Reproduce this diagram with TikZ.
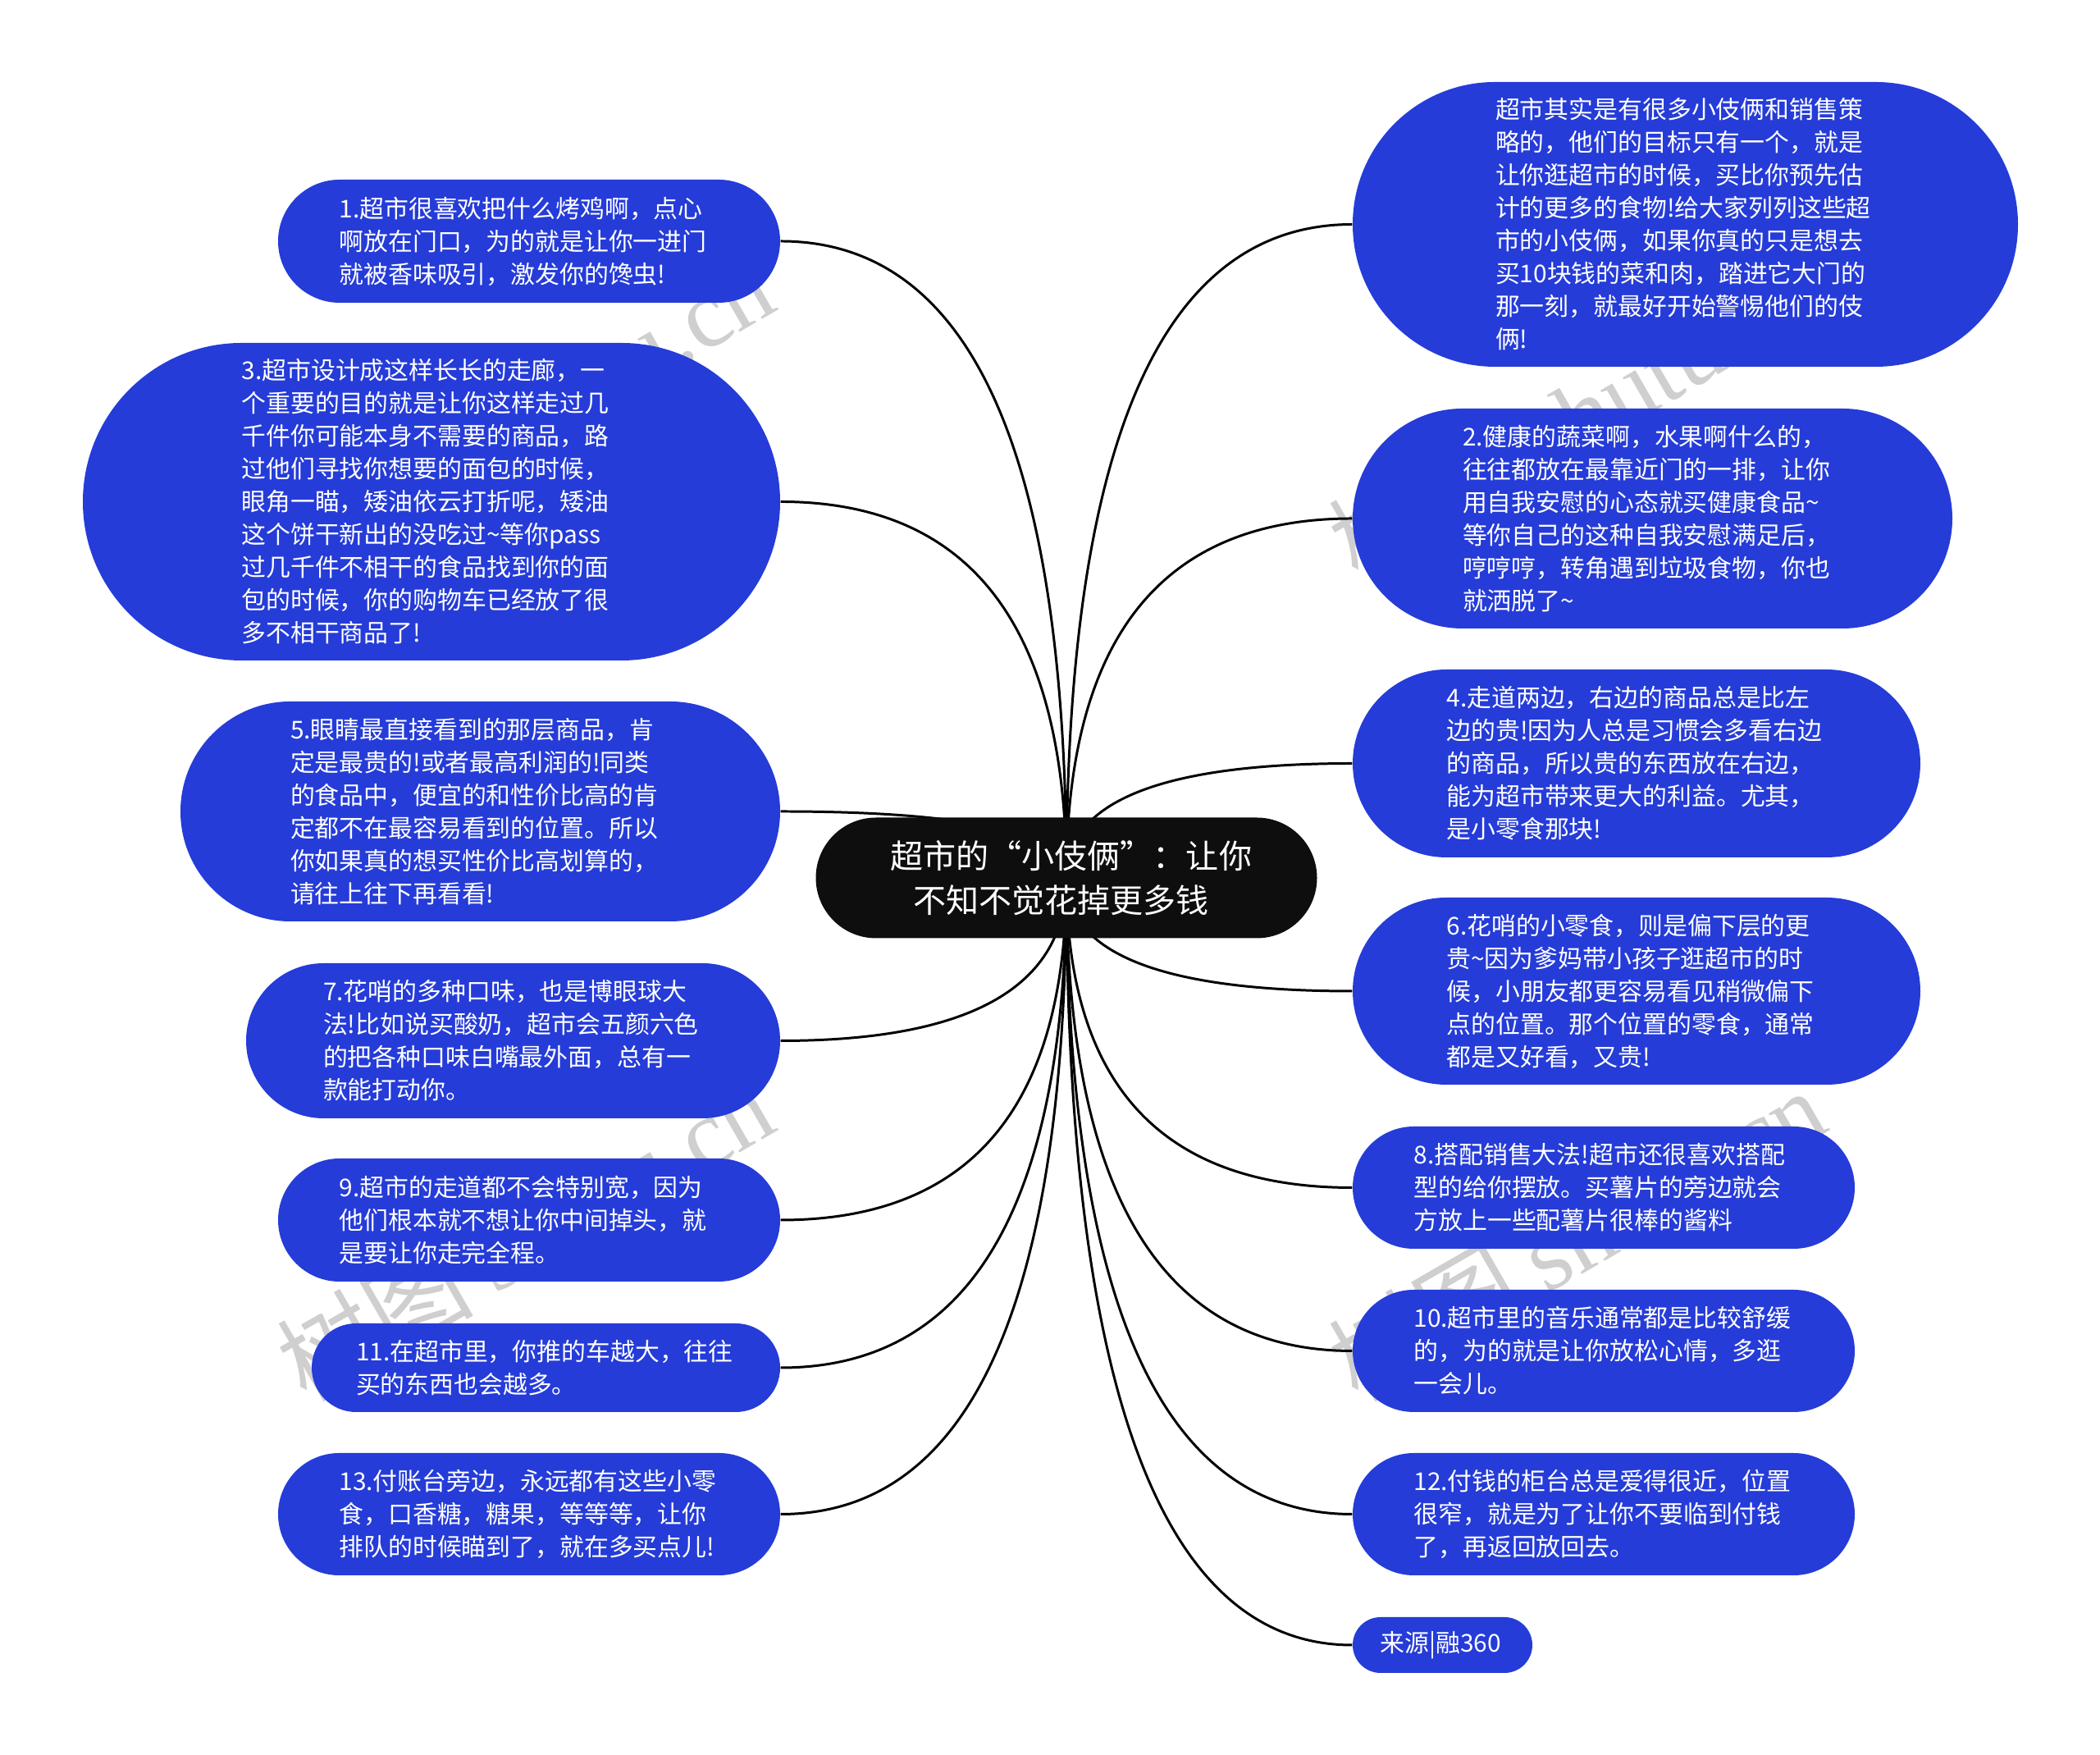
\documentclass[tikz,border=0pt]{standalone}
\usepackage{fontspec}
\setmainfont{Noto Sans CJK SC}
\newfontfamily\stampfont{Liberation Serif}
\usepackage{tikz}
\usetikzlibrary{calc,backgrounds}
\definecolor{itemblue}{HTML}{253CD8}
\definecolor{rootblack}{HTML}{0E0E0E}
\definecolor{stampgray}{HTML}{CFCFCF}
\tikzset{
    itembox/.style 2 args={draw=none,fill=itemblue,text=white,rectangle,rounded corners=#2cm/2,
        minimum width=#1cm,minimum height=#2cm,inner sep=0pt,text width=4.63cm,align=left,
        font=\fontsize{8.5pt}{11.38pt}\selectfont},
    rootbox/.style={draw=none,fill=rootblack,text=white,rectangle,rounded corners=0.735cm,
        minimum width=6.11cm,minimum height=1.47cm,inner sep=0pt,align=center,
        font=\fontsize{11.4pt}{15.2pt}\selectfont},
    link/.style={draw=black,line width=0.85pt},
    stamp/.style={text=stampgray,rotate=30,font=\fontsize{34pt}{34pt}\selectfont}
}
\begin{document}
\begin{tikzpicture}
    \useasboundingbox (0,0) rectangle (25.6,21.39);
    % centre
    \node[rootbox] (root) at (13.0,10.69) {\hspace{0.114cm}超市的“小伎俩”：让你\\不知不觉花掉更多钱\hspace*{0.13cm}};
    % left side
    \node[itembox={6.12}{1.50}] (n1) at (6.45,18.45) {1.超市很喜欢把什么烤鸡啊，点心\\啊放在门口，为的就是让你一进门\\就被香味吸引，激发你的馋虫!};
    \node[itembox={8.50}{3.87}] (n3) at (5.26,15.275) {3.超市设计成这样长长的走廊，一\\个重要的目的就是让你这样走过几\\千件你可能本身不需要的商品，路\\过他们寻找你想要的面包的时候，\\眼角一瞄，矮油依云打折呢，矮油\\这个饼干新出的没吃过\textasciitilde 等你pass\\过几千件不相干的食品找到你的面\\包的时候，你的购物车已经放了很\\多不相干商品了!};
    \node[itembox={7.31}{2.68}] (n5) at (5.855,11.50) {5.眼睛最直接看到的那层商品，肯\\定是最贵的!或者最高利润的!同类\\的食品中，便宜的和性价比高的肯\\定都不在最容易看到的位置。所以\\你如果真的想买性价比高划算的，\\请往上往下再看看!};
    \node[itembox={6.51}{1.89}] (n7) at (6.255,8.705) {7.花哨的多种口味，也是博眼球大\\法!比如说买酸奶，超市会五颜六色\\的把各种口味白嘴最外面，总有一\\款能打动你。};
    \node[itembox={6.12}{1.50}] (n9) at (6.45,6.52) {9.超市的走道都不会特别宽，因为\\他们根本就不想让你中间掉头，就\\是要让你走完全程。};
    \node[itembox={5.71}{1.08}] (n11) at (6.655,4.72) {11.在超市里，你推的车越大，往往\\买的东西也会越多。};
    \node[itembox={6.12}{1.49}] (n13) at (6.45,2.935) {13.付账台旁边，永远都有这些小零\\食，口香糖，糖果，等等等，让你\\排队的时候瞄到了，就在多买点儿!};
    % right side
    \node[itembox={8.11}{3.47}] (n0) at (20.545,18.655) {超市其实是有很多小伎俩和销售策\\略的，他们的目标只有一个，就是\\让你逛超市的时候，买比你预先估\\计的更多的食物!给大家列列这些超\\市的小伎俩，如果你真的只是想去\\买10块钱的菜和肉，踏进它大门的\\那一刻，就最好开始警惕他们的伎\\俩!};
    \node[itembox={7.31}{2.68}] (n2) at (20.145,15.07) {2.健康的蔬菜啊，水果啊什么的，\\往往都放在最靠近门的一排，让你\\用自我安慰的心态就买健康食品\textasciitilde\\等你自己的这种自我安慰满足后，\\哼哼哼，转角遇到垃圾食物，你也\\就洒脱了\textasciitilde};
    \node[itembox={6.92}{2.29}] (n4) at (19.95,12.085) {4.走道两边，右边的商品总是比左\\边的贵!因为人总是习惯会多看右边\\的商品，所以贵的东西放在右边，\\能为超市带来更大的利益。尤其，\\是小零食那块!};
    \node[itembox={6.92}{2.28}] (n6) at (19.95,9.31) {6.花哨的小零食，则是偏下层的更\\贵\textasciitilde 因为爹妈带小孩子逛超市的时\\候，小朋友都更容易看见稍微偏下\\点的位置。那个位置的零食，通常\\都是又好看，又贵!};
    \node[itembox={6.12}{1.49}] (n8) at (19.55,6.915) {8.搭配销售大法!超市还很喜欢搭配\\型的给你摆放。买薯片的旁边就会\\方放上一些配薯片很棒的酱料};
    \node[itembox={6.12}{1.49}] (n10) at (19.55,4.925) {10.超市里的音乐通常都是比较舒缓\\的，为的就是让你放松心情，多逛\\一会儿。};
    \node[itembox={6.12}{1.49}] (n12) at (19.55,2.935) {12.付钱的柜台总是爱得很近，位置\\很窄，就是为了让你不要临到付钱\\了，再返回放回去。};
    \node[itembox={2.19}{0.68},text width=1.52cm] (src) at (17.585,1.34) {来源|融360};
    \begin{scope}[on background layer]
        % stamps
        \node[stamp] (s1) at (6.4,16.35) {树图 {\stampfont shutu.cn}};
        \node[stamp] (s2) at (19.22,16.35) {树图 {\stampfont shutu.cn}};
        \node[stamp] (s3) at (6.4,6.35) {树图 {\stampfont shutu.cn}};
        \node[stamp] (s4) at (19.22,6.35) {树图 {\stampfont shutu.cn}};
        % links
        \foreach \name in {n1,n3,n5,n7,n9,n11,n13} {
            \coordinate (bend) at (root.center |- \name.east);
            \draw[link] (root.center) .. controls ($(root.center)!0.667!(bend)$) and ($(\name.east)!0.667!(bend)$) .. (\name.east);
        }
        \foreach \name in {n0,n2,n4,n6,n8,n10,n12,src} {
            \coordinate (bend) at (root.center |- \name.west);
            \draw[link] (root.center) .. controls ($(root.center)!0.667!(bend)$) and ($(\name.west)!0.667!(bend)$) .. (\name.west);
        }
    \end{scope}
\end{tikzpicture}
\end{document}
